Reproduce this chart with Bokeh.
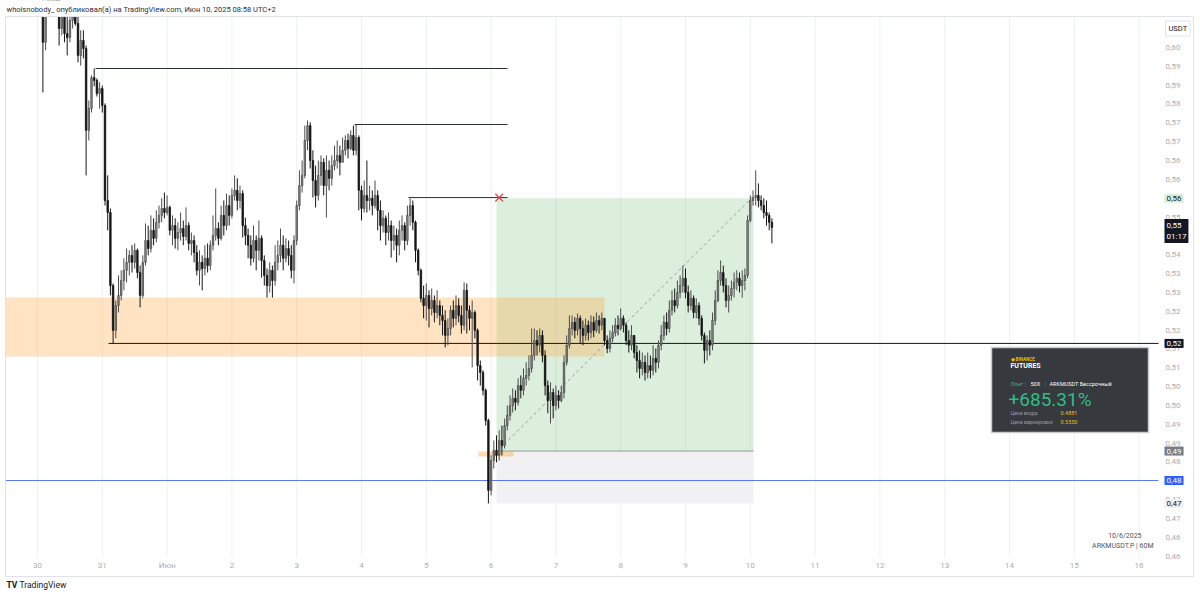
from bokeh.plotting import figure
from bokeh.models import ColumnDataSource, Range1d, Label
from bokeh.core.properties import value
from bokeh.embed import file_html
from bokeh.resources import INLINE

# ---------------- data (ARKMUSDT.P, 60 min candles) ----------------
first_hour = 2          # first candle: 30 May 02:00 (hours counted from 30 May 00:00)
first_open = 0.6115

closes = [
    0.6014, 0.6102, 0.6157, 0.6184, 0.6170, 0.6143, 0.6052, 0.6096, 0.6038, 0.6027,
    0.6074, 0.6102, 0.6066, 0.5978, 0.6019, 0.5997, 0.5772, 0.5832, 0.5917, 0.5909,
    0.5873, 0.5887, 0.5840, 0.5579, 0.5546, 0.5345, 0.5222, 0.5290, 0.5318, 0.5359,
    0.5387, 0.5409, 0.5428, 0.5409, 0.5442, 0.5381, 0.5318, 0.5409, 0.5469, 0.5447,
    0.5497, 0.5475, 0.5519, 0.5538, 0.5557, 0.5546, 0.5560, 0.5497, 0.5510, 0.5475,
    0.5491, 0.5502, 0.5480, 0.5510, 0.5461, 0.5469, 0.5436, 0.5387, 0.5409, 0.5392,
    0.5420, 0.5400, 0.5456, 0.5483, 0.5502, 0.5475, 0.5538, 0.5510, 0.5565, 0.5538,
    0.5593, 0.5607, 0.5579, 0.5598, 0.5510, 0.5483, 0.5456, 0.5420, 0.5469, 0.5442,
    0.5475, 0.5414, 0.5373, 0.5345, 0.5387, 0.5359, 0.5409, 0.5428, 0.5456, 0.5420,
    0.5447, 0.5428, 0.5387, 0.5469, 0.5565, 0.5620, 0.5648, 0.5744, 0.5785, 0.5689,
    0.5634, 0.5593, 0.5648, 0.5684, 0.5620, 0.5662, 0.5640, 0.5675, 0.5689, 0.5703,
    0.5684, 0.5717, 0.5744, 0.5722, 0.5758, 0.5717, 0.5752, 0.5607, 0.5557, 0.5593,
    0.5579, 0.5585, 0.5565, 0.5593, 0.5552, 0.5510, 0.5530, 0.5491, 0.5510, 0.5469,
    0.5483, 0.5456, 0.5497, 0.5510, 0.5469, 0.5538, 0.5565, 0.5519, 0.5442, 0.5387,
    0.5310, 0.5290, 0.5318, 0.5282, 0.5304, 0.5271, 0.5290, 0.5263, 0.5249, 0.5208,
    0.5227, 0.5277, 0.5255, 0.5290, 0.5263, 0.5236, 0.5332, 0.5277, 0.5255, 0.5271,
    0.5222, 0.5125, 0.5106, 0.5057, 0.4974, 0.4782, 0.4864, 0.4892, 0.4878, 0.4919,
    0.4905, 0.4960, 0.4988, 0.5015, 0.5035, 0.5024, 0.5070, 0.5057, 0.5090, 0.5098,
    0.5117, 0.5153, 0.5194, 0.5181, 0.5208, 0.5153, 0.5070, 0.5029, 0.5051, 0.5015,
    0.5043, 0.5029, 0.5051, 0.5134, 0.5181, 0.5227, 0.5244, 0.5222, 0.5255, 0.5227,
    0.5208, 0.5236, 0.5216, 0.5244, 0.5222, 0.5249, 0.5236, 0.5255, 0.5194, 0.5172,
    0.5200, 0.5216, 0.5236, 0.5227, 0.5255, 0.5236, 0.5194, 0.5181, 0.5208, 0.5161,
    0.5139, 0.5117, 0.5134, 0.5106, 0.5125, 0.5112, 0.5145, 0.5134, 0.5181, 0.5208,
    0.5244, 0.5227, 0.5277, 0.5304, 0.5290, 0.5326, 0.5345, 0.5365, 0.5326, 0.5290,
    0.5310, 0.5271, 0.5290, 0.5255, 0.5208, 0.5167, 0.5194, 0.5181, 0.5249, 0.5304,
    0.5359, 0.5381, 0.5345, 0.5304, 0.5318, 0.5337, 0.5354, 0.5365, 0.5345, 0.5359,
    0.5373, 0.5524, 0.5579, 0.5587, 0.5593, 0.5579, 0.5565, 0.5546, 0.5538, 0.5519, 0.5505,
]
highs = [
    0.6143, 0.6129, 0.6184, 0.6212, 0.6212, 0.6184, 0.6151, 0.6115, 0.6107, 0.6088,
    0.6115, 0.6129, 0.6115, 0.6088, 0.6047, 0.6047, 0.6005, 0.5854, 0.5923, 0.5942,
    0.5915, 0.5904, 0.5895, 0.5846, 0.5648, 0.5557, 0.5351, 0.5304, 0.5373, 0.5387,
    0.5420, 0.5447, 0.5442, 0.5456, 0.5461, 0.5447, 0.5400, 0.5428, 0.5516, 0.5510,
    0.5538, 0.5530, 0.5552, 0.5565, 0.5585, 0.5601, 0.5593, 0.5565, 0.5538, 0.5530,
    0.5519, 0.5546, 0.5524, 0.5560, 0.5519, 0.5491, 0.5483, 0.5456, 0.5442, 0.5428,
    0.5456, 0.5461, 0.5469, 0.5538, 0.5612, 0.5519, 0.5565, 0.5579, 0.5598, 0.5593,
    0.5612, 0.5648, 0.5640, 0.5620, 0.5607, 0.5532, 0.5502, 0.5483, 0.5510, 0.5483,
    0.5524, 0.5483, 0.5428, 0.5392, 0.5409, 0.5400, 0.5456, 0.5469, 0.5502, 0.5483,
    0.5475, 0.5469, 0.5456, 0.5483, 0.5579, 0.5662, 0.5689, 0.5785, 0.5799, 0.5794,
    0.5717, 0.5675, 0.5689, 0.5703, 0.5695, 0.5703, 0.5689, 0.5703, 0.5730, 0.5744,
    0.5730, 0.5752, 0.5758, 0.5763, 0.5772, 0.5785, 0.5788, 0.5758, 0.5620, 0.5634,
    0.5689, 0.5620, 0.5607, 0.5634, 0.5607, 0.5579, 0.5552, 0.5538, 0.5546, 0.5524,
    0.5510, 0.5502, 0.5524, 0.5538, 0.5519, 0.5565, 0.5585, 0.5579, 0.5524, 0.5447,
    0.5392, 0.5345, 0.5351, 0.5332, 0.5337, 0.5318, 0.5332, 0.5304, 0.5290, 0.5277,
    0.5255, 0.5290, 0.5304, 0.5318, 0.5310, 0.5290, 0.5354, 0.5351, 0.5290, 0.5304,
    0.5277, 0.5227, 0.5139, 0.5112, 0.5062, 0.4979, 0.4878, 0.4919, 0.4933, 0.4947,
    0.4960, 0.4979, 0.5015, 0.5043, 0.5062, 0.5057, 0.5090, 0.5098, 0.5117, 0.5134,
    0.5153, 0.5227, 0.5227, 0.5222, 0.5227, 0.5222, 0.5167, 0.5084, 0.5079, 0.5062,
    0.5070, 0.5057, 0.5070, 0.5153, 0.5208, 0.5263, 0.5263, 0.5258, 0.5268, 0.5263,
    0.5249, 0.5255, 0.5249, 0.5263, 0.5260, 0.5271, 0.5263, 0.5271, 0.5255, 0.5208,
    0.5222, 0.5236, 0.5255, 0.5263, 0.5282, 0.5263, 0.5244, 0.5222, 0.5236, 0.5208,
    0.5181, 0.5167, 0.5161, 0.5153, 0.5161, 0.5153, 0.5181, 0.5172, 0.5194, 0.5236,
    0.5263, 0.5271, 0.5304, 0.5332, 0.5337, 0.5359, 0.5373, 0.5400, 0.5392, 0.5345,
    0.5332, 0.5318, 0.5310, 0.5299, 0.5263, 0.5216, 0.5208, 0.5222, 0.5271, 0.5332,
    0.5387, 0.5414, 0.5400, 0.5365, 0.5345, 0.5359, 0.5381, 0.5387, 0.5381, 0.5387,
    0.5392, 0.5538, 0.5593, 0.5607, 0.5662, 0.5626, 0.5593, 0.5585, 0.5579, 0.5546, 0.5530,
]
lows = [
    0.5876, 0.5992, 0.6096, 0.6143, 0.6143, 0.6102, 0.6005, 0.6033, 0.6014, 0.5978,
    0.6014, 0.6052, 0.6060, 0.5959, 0.5950, 0.5970, 0.5648, 0.5744, 0.5821, 0.5893,
    0.5865, 0.5832, 0.5821, 0.5565, 0.5497, 0.5318, 0.5186, 0.5200, 0.5271, 0.5304,
    0.5332, 0.5354, 0.5373, 0.5381, 0.5392, 0.5365, 0.5285, 0.5310, 0.5400, 0.5428,
    0.5436, 0.5456, 0.5464, 0.5502, 0.5519, 0.5530, 0.5538, 0.5483, 0.5456, 0.5447,
    0.5442, 0.5469, 0.5456, 0.5469, 0.5442, 0.5428, 0.5409, 0.5373, 0.5345, 0.5332,
    0.5373, 0.5381, 0.5387, 0.5442, 0.5469, 0.5456, 0.5469, 0.5483, 0.5497, 0.5510,
    0.5530, 0.5579, 0.5552, 0.5557, 0.5477, 0.5456, 0.5420, 0.5400, 0.5409, 0.5387,
    0.5414, 0.5367, 0.5345, 0.5312, 0.5326, 0.5312, 0.5345, 0.5387, 0.5409, 0.5387,
    0.5409, 0.5400, 0.5365, 0.5351, 0.5456, 0.5552, 0.5601, 0.5640, 0.5717, 0.5667,
    0.5587, 0.5560, 0.5579, 0.5620, 0.5593, 0.5532, 0.5607, 0.5620, 0.5662, 0.5667,
    0.5648, 0.5689, 0.5703, 0.5695, 0.5717, 0.5703, 0.5703, 0.5552, 0.5524, 0.5546,
    0.5546, 0.5552, 0.5538, 0.5557, 0.5497, 0.5469, 0.5491, 0.5456, 0.5469, 0.5422,
    0.5442, 0.5409, 0.5428, 0.5469, 0.5442, 0.5456, 0.5510, 0.5497, 0.5409, 0.5373,
    0.5299, 0.5255, 0.5249, 0.5230, 0.5263, 0.5244, 0.5255, 0.5236, 0.5208, 0.5175,
    0.5181, 0.5208, 0.5230, 0.5236, 0.5244, 0.5213, 0.5222, 0.5213, 0.5222, 0.5120,
    0.5200, 0.5084, 0.5070, 0.5043, 0.4960, 0.4746, 0.4768, 0.4842, 0.4859, 0.4864,
    0.4878, 0.4897, 0.4947, 0.4974, 0.4996, 0.5002, 0.5015, 0.5035, 0.5043, 0.5070,
    0.5084, 0.5106, 0.5139, 0.5153, 0.5161, 0.5134, 0.5043, 0.4994, 0.4966, 0.4980,
    0.5002, 0.5007, 0.5024, 0.5035, 0.5125, 0.5172, 0.5208, 0.5200, 0.5208, 0.5186,
    0.5181, 0.5194, 0.5194, 0.5200, 0.5203, 0.5216, 0.5213, 0.5222, 0.5181, 0.5159,
    0.5161, 0.5189, 0.5205, 0.5208, 0.5222, 0.5216, 0.5181, 0.5161, 0.5167, 0.5145,
    0.5106, 0.5090, 0.5098, 0.5084, 0.5090, 0.5090, 0.5098, 0.5106, 0.5117, 0.5167,
    0.5194, 0.5208, 0.5216, 0.5263, 0.5271, 0.5282, 0.5310, 0.5326, 0.5310, 0.5271,
    0.5277, 0.5255, 0.5255, 0.5236, 0.5194, 0.5131, 0.5139, 0.5153, 0.5167, 0.5236,
    0.5299, 0.5345, 0.5326, 0.5285, 0.5271, 0.5304, 0.5312, 0.5332, 0.5326, 0.5312,
    0.5332, 0.5365, 0.5519, 0.5565, 0.5565, 0.5560, 0.5552, 0.5530, 0.5510, 0.5497, 0.5461,
]

# time axis: one label per day, starting 30 May
day_labels = ["30", "31", "Июн", "2", "3", "4", "5", "6", "7", "8",
              "9", "10", "11", "12", "13", "14", "15", "16"]

# price scale ticks (as printed by TradingView)
price_ticks = [0.6000, 0.5948, 0.5896, 0.5845, 0.5793, 0.5741, 0.5689, 0.5637,
               0.5585, 0.5533, 0.5482, 0.5430, 0.5378, 0.5326, 0.5274, 0.5222,
               0.5171, 0.5119, 0.5067, 0.5015, 0.4963, 0.4911, 0.4860, 0.4808,
               0.4756, 0.4704, 0.4652, 0.4600]
price_tick_labels = ["0,60", "0,59", "0,59", "0,58", "0,57", "0,57", "0,56", "0,56",
                     "0,56", "0,55", "0,55", "0,54", "0,53", "0,53", "0,52", "0,52",
                     "0,51", "0,51", "0,50", "0,50", "0,49", "0,49", "0,48", "0,48",
                     "0,47", "0,47", "0,46", "0,46"]

# drawings
resist_prices = [0.5942, 0.5788, 0.5587]
resist_start = [21.5, 117.4, 137.4]
resist_end = [174.1, 174.1, 174.1]
support_price = 0.5186
support_start = 26.3
blue_level = 0.4809
zone_top, zone_bottom, zone_end = 0.5312, 0.5150, 210.0
pos_start, pos_end = 170.0, 265.2
entry_price, target_price, stop_price = 0.4890, 0.5585, 0.4746
entry_mark = (163.3, 176.3, 0.4889, 0.4875)
trend_x = [171.3, 264.8]
trend_y = [0.4897, 0.5588]
cross_x, cross_y = 171.0, 0.5587
mark_time = "01:17"

# ---------------- layout helpers (page pixel -> data) ----------------
def X(px):
    return (px - 37) / 2.7


def P(py):
    return 0.6129 - 0.000275 * py


FONT = "Roboto"
PANE_L, PANE_R, PANE_T, PANE_B = 5, 1158, 16, 557

p = figure(width=1200, height=596,
           x_range=Range1d(X(0), X(1200)), y_range=Range1d(P(596), P(0)),
           output_backend="svg", toolbar_location=None,
           x_axis_location=None, y_axis_location=None,
           min_border_left=0, min_border_right=0, min_border_top=0, min_border_bottom=0)
p.background_fill_color = "white"
p.border_fill_color = "white"
p.outline_line_color = None
p.xgrid.grid_line_color = None
p.ygrid.grid_line_color = None

# day grid lines (time scale)
day_ticks = [24 * i for i in range(len(day_labels))]
p.segment(x0=day_ticks, y0=[P(PANE_T)] * len(day_ticks), x1=day_ticks,
          y1=[P(PANE_B)] * len(day_ticks), line_color="#eef0f4", line_width=1)

# zones
p.quad(left=[pos_start], right=[pos_end], top=[target_price], bottom=[entry_price],
       fill_color="#4caf50", fill_alpha=0.2, line_color=None)
p.quad(left=[pos_start], right=[pos_end], top=[entry_price], bottom=[stop_price],
       fill_color="#f1f1f3", line_color=None)
p.quad(left=[X(PANE_L)], right=[zone_end], top=[zone_top], bottom=[zone_bottom],
       fill_color="#ffb050", fill_alpha=0.35, line_color=None)
p.quad(left=[entry_mark[0]], right=[entry_mark[1]], top=[entry_mark[2]], bottom=[entry_mark[3]],
       fill_color="#ffb050", fill_alpha=0.45, line_color=None)
p.segment(x0=[pos_start], y0=[entry_price], x1=[pos_end], y1=[entry_price],
          line_color="#9598a1", line_width=1)
p.line(trend_x, trend_y, line_color="#9a9da5", line_dash="3 3", line_width=1)

# level lines
p.segment(x0=resist_start, y0=resist_prices, x1=resist_end, y1=resist_prices,
          line_color="#2a2e39", line_width=1)
p.segment(x0=[support_start], y0=[support_price], x1=[X(PANE_R)], y1=[support_price],
          line_color="#131722", line_width=1)
p.segment(x0=[X(PANE_L)], y0=[blue_level], x1=[X(PANE_R)], y1=[blue_level],
          line_color="#3d63f2", line_alpha=0.85, line_width=1.2)

# candles
n = len(closes)
t = [first_hour + i for i in range(n)]
opens = [first_open] + closes[:-1]
up = [c >= o for o, c in zip(opens, closes)]
src = ColumnDataSource(dict(
    t=t, high=highs, low=lows,
    top=[max(o, c) for o, c in zip(opens, closes)],
    bottom=[min(o, c) for o, c in zip(opens, closes)],
    fill=["#8e8e8e" if u else "#161616" for u in up],
    edge=["#4d4d4d" if u else "#161616" for u in up],
))
p.segment(x0="t", y0="low", x1="t", y1="high", line_color="edge", line_width=1, source=src)
p.vbar(x="t", width=0.55, top="top", bottom="bottom", fill_color="fill",
       line_color="edge", line_width=0.8, source=src)

p.scatter([cross_x], [cross_y], marker="x", size=11, line_color="#e0474f", line_width=1.2)

# header strip (hides candles above the pane) and outer frame
p.quad(left=[X(0)], right=[X(1200)], top=[P(-10)], bottom=[P(PANE_T)],
       fill_color="white", line_color=None)
p.quad(left=[X(PANE_L)], right=[X(1193)], top=[P(PANE_T)], bottom=[P(576)],
       fill_color=None, line_color="#e0e3eb", line_width=1)

# time scale labels
p.text(x=day_ticks, y=[P(565)] * len(day_ticks), text=day_labels,
       text_font=value(FONT), text_font_size="8px", text_color="#a9acb5",
       text_align="center", text_baseline="middle")
# price scale labels
p.text(x=[X(1165)] * len(price_ticks), y=price_ticks, text=price_tick_labels,
       text_font=value(FONT), text_font_size="8px", text_color="#a9acb5",
       text_align="left", text_baseline="middle")


def lab(x, y, text, size="8px", color="#131722", align="left", baseline="middle", **kw):
    p.add_layout(Label(x=x, y=y, text=text, text_font=FONT, text_font_size=size,
                       text_color=color, text_align=align, text_baseline=baseline, **kw))


def fmt(v):
    return f"{v:.2f}".replace(".", ",")


# header / footer
lab(X(6), P(8.5), "whoisnobody_ опубликовал(а) на TradingView.com, Июн 10, 2025 08:58 UTC+2",
    size="7.5px", color="#2a2e39")
lab(X(6), P(584.5), "TV", size="8.5px", color="#131722", text_font_style="bold")
lab(X(19), P(584.5), "TradingView", size="8.5px", color="#131722")

# price scale tags
lab(X(1165), P(28), "USDT", size="7.5px", color="#131722", background_fill_color="white",
    border_line_color="#e0e3eb", padding=3)
lab(X(1164), target_price, fmt(target_price), color="#131722",
    background_fill_color="#d6eedb", padding=2)
lab(X(1164), P(230.5), fmt(closes[-1]) + "\n" + mark_time, color="white",
    background_fill_color="#131722", padding=2)
lab(X(1164), support_price, fmt(support_price), color="white",
    background_fill_color="#131722", padding=2)
lab(X(1164), entry_price, fmt(entry_price), color="white",
    background_fill_color="#787b86", padding=2)
lab(X(1164), blue_level, fmt(blue_level), color="white",
    background_fill_color="#2962ff", padding=2)
lab(X(1164), stop_price, fmt(stop_price), color="#131722",
    background_fill_color="#eff0f2", padding=2)

# symbol info bottom right
lab(X(1141), P(535), "10/6/2025", size="7px", color="#50535e", align="right")
lab(X(1153), P(545), "ARKMUSDT.P | 60M", size="7px", color="#50535e", align="right")

# Binance Futures PnL card
p.quad(left=[X(991)], right=[X(1148)], top=[P(347)], bottom=[P(432)],
       fill_color="#36393e", line_color="#c9cbd0", line_width=1.5)
lab(X(1010), P(359), "◆ BINANCE", size="4.5px", color="#f0b90b", text_font_style="bold")
lab(X(1010), P(365.5), "FUTURES", size="7px", color="white", text_font_style="bold")
lab(X(1010), P(383), "Лонг", size="5.5px", color="#2ebd85")
lab(X(1024), P(383), "|", size="5.5px", color="#6c6f75")
lab(X(1030), P(383), "50X", size="5.5px", color="white")
lab(X(1044), P(383), "|", size="5.5px", color="#6c6f75")
lab(X(1049), P(383), "ARKMUSDT Бессрочный", size="5.5px", color="white")
lab(X(1008), P(398.5), "+685.31%", size="19px", color="#2ebd85")
lab(X(1010), P(412.5), "Цена входа", size="5px", color="#9a9ca1")
lab(X(1060), P(412.5), "0.4881", size="5.5px", color="#f0b90b")
lab(X(1010), P(421.5), "Цена маркировки", size="5px", color="#9a9ca1")
lab(X(1060), P(421.5), "0.5550", size="5.5px", color="#f0b90b")

with open("out.html", "w", encoding="utf-8") as f:
    f.write(file_html(p, INLINE))
